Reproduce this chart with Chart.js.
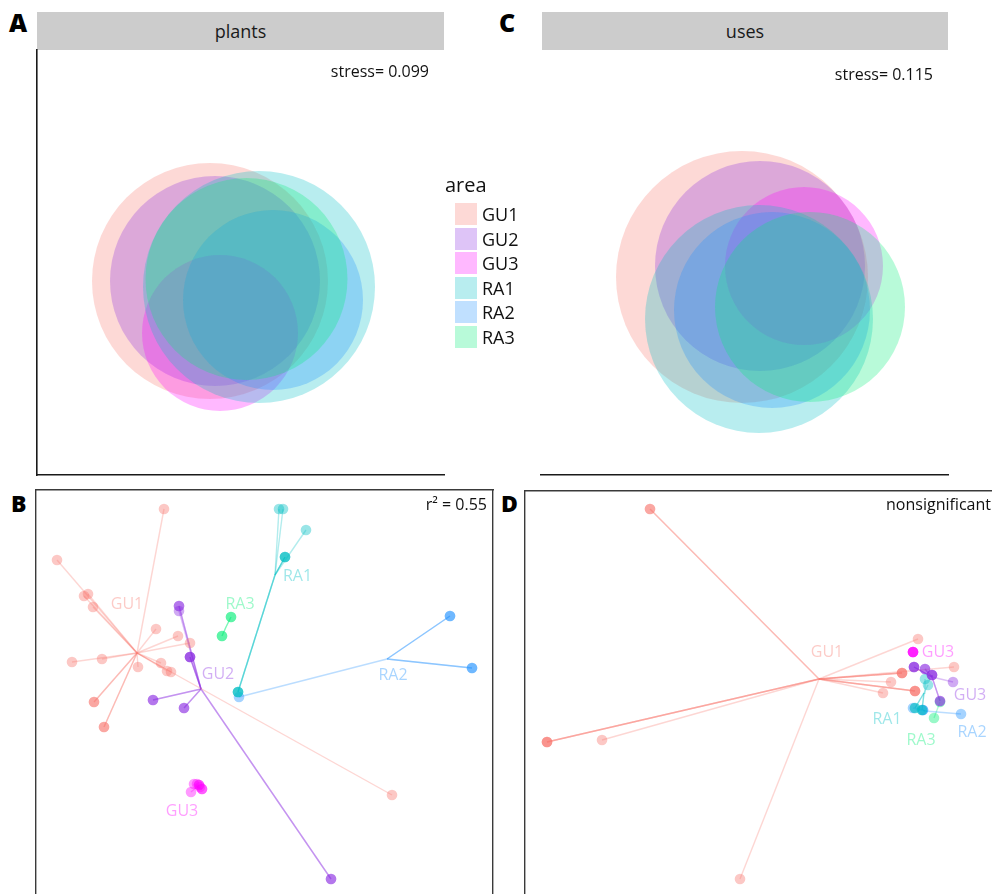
<!DOCTYPE html>
<html>
<head>
<meta charset="utf-8">
<script src="https://cdn.jsdelivr.net/npm/chart.js@4.4.1/dist/chart.umd.min.js"></script>
<style>
  html, body { margin: 0; padding: 0; background: #fff; overflow: hidden; width: 992px; height: 894px; }
  body { position: relative; font-family: "Open Sans", sans-serif; color: #111; }
  canvas { position: absolute; }
  .strip { position: absolute; top: 12px; height: 38px; line-height: 38px; background: #cccccc; text-align: center; font-size: 18px; color: #1a1a1a; }
  .letter { position: absolute; font-weight: 800; line-height: 1; color: #000; }
  .note { position: absolute; font-size: 16px; line-height: 1; white-space: nowrap; color: #111; }
  .legend-title { position: absolute; left: 445px; top: 175px; font-size: 20px; line-height: 1; }
  .legend-row { position: absolute; left: 455px; height: 22px; }
  .legend-row .key { position: absolute; left: 0; top: 0; width: 22px; height: 22px; }
  .legend-row .lab { position: absolute; left: 27px; top: 0; line-height: 22px; font-size: 18px; white-space: nowrap; }
</style>
</head>
<body>

<div class="letter" style="left:9px;top:10px;font-size:25px;">A</div>
<div class="letter" style="left:499px;top:10px;font-size:25px;">C</div>
<div class="letter" style="left:11px;top:492px;font-size:23px;">B</div>
<div class="letter" style="left:501px;top:492px;font-size:23px;">D</div>

<div class="strip" style="left:37px;width:407px;">plants</div>
<div class="strip" style="left:542px;width:406px;">uses</div>

<canvas id="plantsNmds" width="419" height="437" style="left:31px;top:44px;"></canvas>
<canvas id="usesNmds" width="419" height="437" style="left:535px;top:44px;"></canvas>
<canvas id="plantsDisp" width="469" height="432" style="left:30px;top:484px;"></canvas>
<canvas id="usesDisp" width="485" height="432" style="left:519px;top:485px;"></canvas>

<div class="note" style="right:563px;top:63px;">stress= 0.099</div>
<div class="note" style="right:59px;top:66px;">stress= 0.115</div>
<div class="note" style="right:505px;top:496px;">r² = 0.55</div>
<div class="note" style="right:1px;top:496px;">nonsignificant</div>

<div class="legend-title">area</div>
<div id="legend"></div>

<script>
// Study areas and their colours
const AREAS = ['GU1', 'GU2', 'GU3', 'RA1', 'RA2', 'RA3'];
const AREA_COLORS = ['#F8766D', '#8A2BE2', '#FF00FF', '#00BFC4', '#1E90FF', '#00EE76'];

// NMDS dispersion circles per area: centre (x, y) and radius, in NMDS units
const plantsCx = [-0.27, -0.22, -0.17, 0.22, 0.36, 0.095];
const plantsCy = [-0.31, -0.31, -0.83, -0.37, -0.50, -0.29];
const plantsR  = [1.18, 1.05, 0.78, 1.16, 0.90, 1.01];

const usesCx = [0.01, 0.19, 0.63, 0.18, 0.31, 0.69];
const usesCy = [-0.27, -0.16, -0.16, -0.69, -0.60, -0.57];
const usesR  = [1.26, 1.05, 0.79, 1.14, 0.98, 0.95];

// Multivariate dispersion (plants): group centroids and site scores [PCoA1, PCoA2]
const plantsCentroids = [[-0.99, 0.37], [-0.35, 0.01], [-0.39, -0.97], [0.39, 1.15], [1.51, 0.31], [-0.10, 0.63]];
const plantsGU1 = [[-0.72, 1.81], [-1.79, 1.30], [-1.48, 0.96], [-1.52, 0.94], [-1.43, 0.83], [-0.80, 0.61],
                   [-0.58, 0.54], [-0.46, 0.47], [-1.64, 0.28], [-1.34, 0.31], [-0.98, 0.23], [-0.75, 0.27],
                   [-0.69, 0.19], [-0.65, 0.18], [-1.42, -0.12], [-1.42, -0.12], [-1.32, -0.37], [-1.32, -0.37],
                   [1.56, -1.05]];
const plantsGU2 = [[-0.57, 0.84], [-0.57, 0.84], [-0.57, 0.79], [-0.46, 0.33], [-0.46, 0.33], [-0.46, 0.33],
                   [-0.83, -0.10], [-0.83, -0.10], [-0.52, -0.18], [-0.52, -0.18], [0.95, -1.89], [0.95, -1.89]];
const plantsGU3 = [[-0.42, -0.94], [-0.37, -0.95], [-0.37, -0.95], [-0.34, -0.99], [-0.34, -0.99],
                   [-0.45, -1.02], [-0.39, -0.94], [-0.36, -0.97]];
const plantsRA1 = [[0.43, 1.81], [0.47, 1.81], [0.70, 1.60], [0.49, 1.33], [0.49, 1.33], [0.49, 1.33],
                   [0.02, -0.02], [0.02, -0.02], [0.02, -0.02]];
const plantsRA2 = [[2.14, 0.74], [2.14, 0.74], [2.36, 0.22], [2.36, 0.22], [0.03, -0.07]];
const plantsRA3 = [[-0.05, 0.73], [-0.05, 0.73], [-0.14, 0.54], [-0.14, 0.54]];
const plantsLabelText = ['GU1', 'GU2', 'GU3', 'RA1', 'RA2', 'RA3'];
const plantsLabelPos = [[-1.09, 0.87], [-0.18, 0.17], [-0.54, -1.20], [0.615, 1.15], [1.57, 0.16], [0.04, 0.87]];

// Multivariate dispersion (uses)
const usesCentroids = [[0.94, 0.12], [2.07, 0.14], [1.88, 0.39], [1.99, -0.02], [2.00, -0.20], [2.12, -0.19]];
const usesGU1 = [[-0.75, 1.82], [-0.75, 1.82], [-1.78, -0.51], [-1.78, -0.51], [-1.78, -0.51], [-1.23, -0.49],
                 [0.15, -1.88], [1.93, 0.52], [2.29, 0.24], [1.77, 0.18], [1.77, 0.18], [1.77, 0.18],
                 [1.66, 0.09], [1.58, -0.02], [1.90, 0.00], [1.90, 0.00], [1.90, 0.00]];
const usesGU2 = [[1.89, 0.24], [1.89, 0.24], [1.89, 0.24], [2.00, 0.22], [2.00, 0.22], [2.07, 0.16],
                 [2.07, 0.16], [2.07, 0.16], [2.28, 0.09], [2.15, -0.10], [2.15, -0.10]];
const usesGU3 = [[1.88, 0.39], [1.88, 0.39], [1.88, 0.39], [1.88, 0.39]];
const usesRA1 = [[2.00, 0.12], [2.03, 0.06], [1.90, -0.17], [1.90, -0.17], [1.97, -0.19], [1.97, -0.19]];
const usesRA2 = [[1.88, -0.17], [1.98, -0.19], [1.98, -0.19], [2.36, -0.23]];
const usesRA3 = [[2.09, -0.27], [2.15, -0.11]];
const usesLabelText = ['GU1', 'GU3', 'GU3', 'RA1', 'RA2', 'RA3'];
const usesLabelPos = [[1.02, 0.40], [2.45, -0.03], [2.13, 0.40], [1.62, -0.27], [2.47, -0.40], [1.96, -0.48]];

// Plot-area padding inside each canvas (room for the axis lines)
const PAD = 6;

function rgba(hex, a) {
  const n = parseInt(hex.slice(1), 16);
  return `rgba(${(n >> 16) & 255},${(n >> 8) & 255},${n & 255},${a})`;
}

function edgeAxis(axis, position, min, max, show, color, width) {
  return {
    type: 'linear', axis, position, min, max,
    display: show,
    ticks: { display: false },
    grid: { display: false, drawTicks: false },
    border: { display: show, color, width }
  };
}

const baseOptions = {
  responsive: false,
  animation: false,
  devicePixelRatio: 1,
  events: [],
  layout: { padding: PAD, autoPadding: false },
  plugins: { legend: { display: false }, tooltip: { enabled: false } }
};

// Group names placed at given coordinates
const groupLabels = {
  id: 'groupLabels',
  afterDatasetsDraw(chart, args, opts) {
    const { ctx, scales: { x, y } } = chart;
    ctx.save();
    ctx.font = '16px "Open Sans"';
    ctx.textAlign = 'center';
    ctx.textBaseline = 'alphabetic';
    opts.text.forEach((t, i) => {
      ctx.fillStyle = rgba(AREA_COLORS[i], 0.38);
      ctx.fillText(t, x.getPixelForValue(opts.pos[i][0]), y.getPixelForValue(opts.pos[i][1]) + 5.7);
    });
    ctx.restore();
  }
};

function circleChart(id, cx, cy, r, xr, yr, showLeft) {
  const datasets = AREAS.map((name, i) => ({
    label: name,
    data: [{ x: cx[i], y: cy[i], r: 0 }],
    backgroundColor: rgba(AREA_COLORS[i], 0.28),
    borderWidth: 0,
    hoverRadius: 0,
    clip: false,
    order: AREAS.length - i
  }));
  const chart = new Chart(document.getElementById(id), {
    type: 'bubble',
    data: { datasets },
    options: Object.assign({}, baseOptions, {
      scales: {
        x: edgeAxis('x', 'bottom', xr[0], xr[1], true, '#1a1a1a', 1.6),
        y: edgeAxis('y', 'left', yr[0], yr[1], showLeft, '#1a1a1a', 1.6)
      }
    })
  });
  // circle radii are in NMDS units: convert them through the laid-out x scale
  const s = chart.scales.x;
  chart.data.datasets.forEach((ds, i) => {
    ds.data = [{ x: cx[i], y: cy[i], r: Math.abs(s.getPixelForValue(r[i]) - s.getPixelForValue(0)) }];
  });
  chart.update('none');
  return chart;
}

function spiderChart(id, centroids, groups, labelText, labelPos, xr, yr) {
  const datasets = [];
  groups.forEach((pts, g) => {
    const c = centroids[g];
    pts.forEach(p => {
      datasets.push({
        type: 'line',
        data: [{ x: c[0], y: c[1] }, { x: p[0], y: p[1] }],
        borderColor: rgba(AREA_COLORS[g], 0.3),
        borderWidth: 1.4,
        pointRadius: 0,
        pointHoverRadius: 0,
        fill: false,
        tension: 0,
        clip: false,
        order: 2
      });
    });
  });
  groups.forEach((pts, g) => {
    datasets.push({
      type: 'scatter',
      label: AREAS[g],
      data: pts.map(p => ({ x: p[0], y: p[1] })),
      pointRadius: 5.3,
      pointHoverRadius: 5.3,
      pointBackgroundColor: rgba(AREA_COLORS[g], 0.4),
      pointBorderWidth: 0,
      clip: false,
      order: 1
    });
  });
  const frame = '#3a3a3a';
  new Chart(document.getElementById(id), {
    type: 'scatter',
    data: { datasets },
    options: Object.assign({}, baseOptions, {
      scales: {
        x: edgeAxis('x', 'bottom', xr[0], xr[1], true, frame, 1.4),
        y: edgeAxis('y', 'left', yr[0], yr[1], true, frame, 1.4),
        xTop: edgeAxis('x', 'top', xr[0], xr[1], true, frame, 1.4),
        yRight: edgeAxis('y', 'right', yr[0], yr[1], true, frame, 1.4)
      },
      plugins: Object.assign({}, baseOptions.plugins, {
        groupLabels: { text: labelText, pos: labelPos }
      })
    }),
    plugins: [groupLabels]
  });
}

circleChart('plantsNmds', plantsCx, plantsCy, plantsR, [-2.0, 2.07], [-2.25, 2.0], true);
circleChart('usesNmds', usesCx, usesCy, usesR, [-2.0, 2.07], [-2.25, 2.0], false);

spiderChart('plantsDisp', plantsCentroids,
  [plantsGU1, plantsGU2, plantsGU3, plantsRA1, plantsRA2, plantsRA3],
  plantsLabelText, plantsLabelPos, [-2.0, 2.57], [-2.2, 2.0]);
spiderChart('usesDisp', usesCentroids,
  [usesGU1, usesGU2, usesGU3, usesRA1, usesRA2, usesRA3],
  usesLabelText, usesLabelPos, [-2.0, 2.73], [-2.2, 2.0]);

// Legend for the area fill colours
const legend = document.getElementById('legend');
AREAS.forEach((name, i) => {
  const row = document.createElement('div');
  row.className = 'legend-row';
  row.style.top = (203 + i * 24.6) + 'px';
  const key = document.createElement('div');
  key.className = 'key';
  key.style.background = rgba(AREA_COLORS[i], 0.28);
  const lab = document.createElement('div');
  lab.className = 'lab';
  lab.textContent = name;
  row.appendChild(key);
  row.appendChild(lab);
  legend.appendChild(row);
});
</script>
</body>
</html>
